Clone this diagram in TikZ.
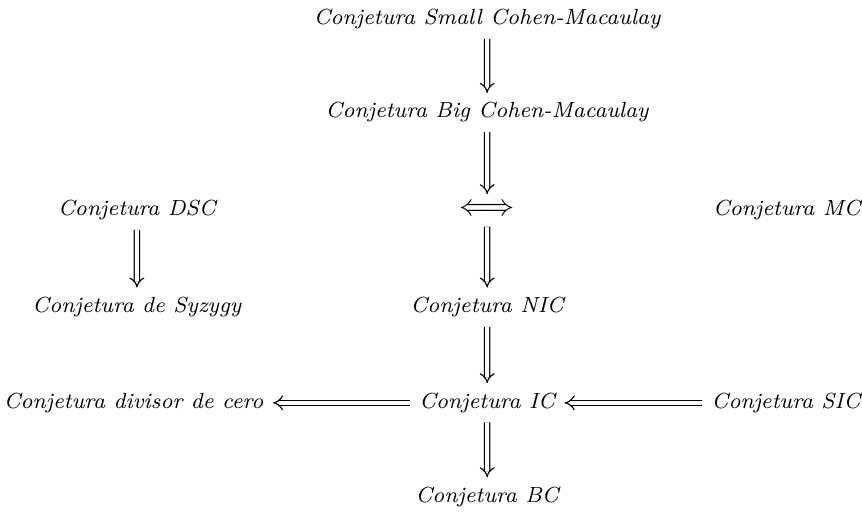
\documentclass[tikz,border=0pt]{standalone}
\usetikzlibrary{arrows.meta}

\tikzset{
    imp/.style = {double, double distance=1.4pt, -{Implies[length=5pt, width=9pt]}},
}

\begin{document}
\begin{tikzpicture}[every node/.style = {font=\footnotesize\itshape, scale=0.945, anchor=base}]
    \useasboundingbox (0,0) rectangle (10.45,-6.27);
    % columna central
    \node (scm) at (5.906,-0.30) {Conjetura Small Cohen-Macaulay};
    \node (bcm) at (5.906,-1.43) {Conjetura Big Cohen-Macaulay};
    \node[anchor=center, font=\normalsize, scale=1.1] (eqv) at (5.906,-2.55) {$\Longleftrightarrow$};
    \node (nic) at (5.906,-3.79) {Conjetura NIC};
    \node (ic) at (5.906,-4.95) {Conjetura IC};
    \node (bc) at (5.906,-6.09) {Conjetura BC};
    % columna izquierda
    \node (dsc) at (1.66,-2.615) {Conjetura DSC};
    \node (syz) at (1.66,-3.79) {Conjetura de Syzygy};
    \node (div) at (1.62,-4.95) {Conjetura divisor de cero};
    % columna derecha
    \node (mc) at (9.54,-2.615) {Conjetura MC};
    \node (sic) at (9.53,-4.95) {Conjetura SIC};
    % flechas
    \draw[imp] (scm) -- (bcm);
    \draw[imp] (bcm) -- (eqv);
    \draw[imp] (eqv) -- (nic);
    \draw[imp] (nic) -- (ic);
    \draw[imp] (ic) -- (bc);
    \draw[imp] (dsc) -- (syz);
    \draw[imp] (ic) -- (div);
    \draw[imp] (sic) -- (ic);
\end{tikzpicture}
\end{document}
